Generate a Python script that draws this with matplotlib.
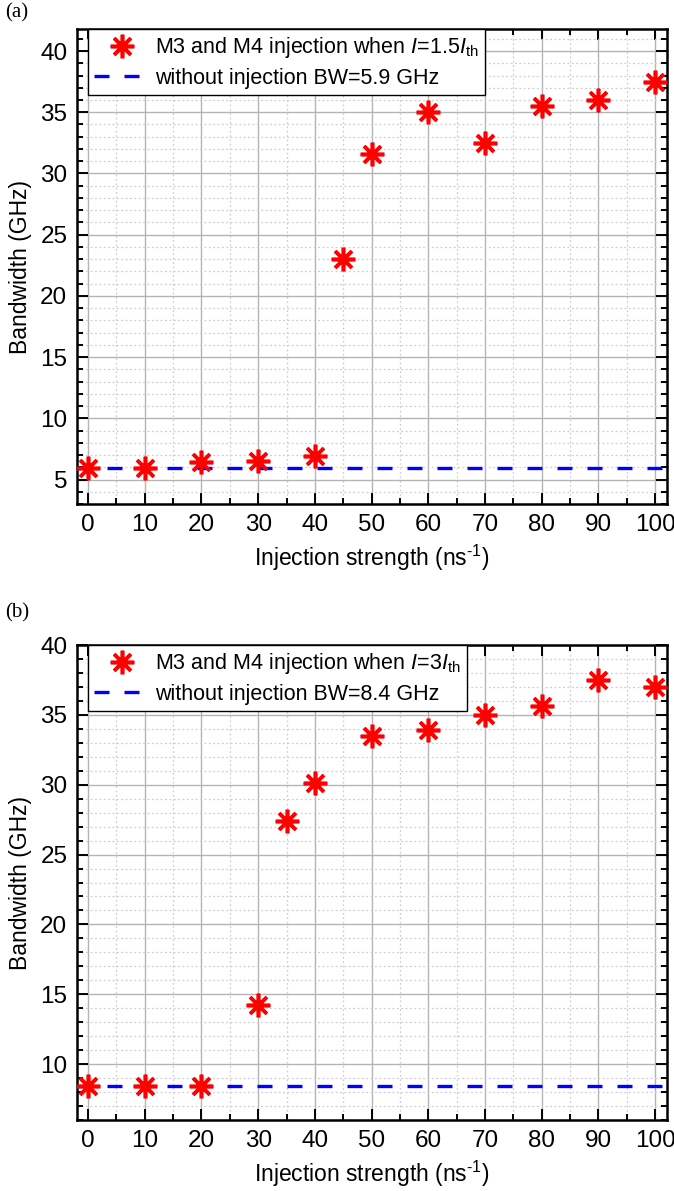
import matplotlib
matplotlib.use("Agg")
import matplotlib.pyplot as plt
from matplotlib.ticker import MultipleLocator

plt.rcParams['font.family'] = ['Liberation Sans', 'DejaVu Sans']
plt.rcParams['mathtext.fontset'] = 'custom'
plt.rcParams['mathtext.rm'] = 'Liberation Sans'
plt.rcParams['mathtext.it'] = 'Liberation Sans:italic'

# Panel (a) data
x_a = [0, 10, 20, 30, 40, 45, 50, 60, 70, 80, 90, 100]
bw_a = [5.9, 5.9, 6.4, 6.5, 6.9, 23.0, 31.6, 35.0, 32.5, 35.5, 36.0, 37.5]
ref_a = 5.9
label_a = r'M3 and M4 injection when $\mathit{I}$=1.5$\mathit{I}_{\mathrm{th}}$'
ref_label_a = 'without injection BW=5.9 GHz'

# Panel (b) data
x_b = [0, 10, 20, 30, 35, 40, 50, 60, 70, 80, 90, 100]
bw_b = [8.4, 8.4, 8.4, 14.2, 27.4, 30.1, 33.5, 33.9, 35.0, 35.6, 37.5, 37.0]
ref_b = 8.4
label_b = r'M3 and M4 injection when $\mathit{I}$=3$\mathit{I}_{\mathrm{th}}$'
ref_label_b = 'without injection BW=8.4 GHz'

xticks = [0, 10, 20, 30, 40, 50, 60, 70, 80, 90, 100]

W, H = 674, 1191
fig = plt.figure(figsize=(W / 100, H / 100), dpi=100)

def make_ax(top_px, bottom_px):
    left, right = 77, 667
    return fig.add_axes([left / W, 1 - bottom_px / H, (right - left) / W, (bottom_px - top_px) / H])

def style(ax, x, y, ref, lab, reflab, ylim, yticks):
    ax.set_xlim(-1.95, 102.1)
    ax.set_ylim(*ylim)
    ax.set_xticks(xticks)
    ax.set_yticks(yticks)
    ax.xaxis.set_minor_locator(MultipleLocator(5))
    ax.yaxis.set_minor_locator(MultipleLocator(1))
    ax.grid(which='major', color='#b4b4b4', linewidth=1.0, linestyle='-')
    ax.grid(which='minor', color='#cfcfcf', linewidth=0.9, linestyle=(0, (1.5, 2)))
    ax.set_axisbelow(True)
    for s in ax.spines.values():
        s.set_linewidth(1.8)
    ax.tick_params(which='both', direction='in', top=True, right=True, width=1.4)
    ax.tick_params(which='major', length=8, labelsize=17.5, pad=7)
    ax.tick_params(which='minor', length=4.5)
    ax.plot(x, y, linestyle='none', marker=(8, 2, 0), markersize=17,
            markeredgewidth=2.6, color='#ff0000', label=lab, zorder=4)
    ax.axhline(ref, color='#0000ff', linewidth=2.4, linestyle=(0, (4.5, 4.5)),
               label=reflab, zorder=3)
    ax.set_xlabel(r'Injection strength (ns$^{\text{-1}}$)', fontsize=16.5, labelpad=5)
    ax.set_ylabel('Bandwidth (GHz)', fontsize=16.5, labelpad=6)
    leg = ax.legend(loc='upper left', bbox_to_anchor=(0.0186, 1.0), borderaxespad=0,
                    fontsize=15.5, frameon=True, fancybox=False, edgecolor='black',
                    framealpha=1, handlelength=2.6, handletextpad=0.2,
                    borderpad=0.3, labelspacing=0.35)
    leg.get_frame().set_linewidth(1.0)
    leg.set_zorder(5)

ax1 = make_ax(29, 504)
style(ax1, x_a, bw_a, ref_a, label_a, ref_label_a, (3, 41.8), [5, 10, 15, 20, 25, 30, 35, 40])
ax2 = make_ax(645, 1120)
style(ax2, x_b, bw_b, ref_b, label_b, ref_label_b, (6, 40), [10, 15, 20, 25, 30, 35, 40])

fig.text(5 / W, 1 - 3 / H, '(a)', family='Liberation Serif', fontsize=15, va='top', ha='left')
fig.text(5 / W, 1 - 603 / H, '(b)', family='Liberation Serif', fontsize=15, va='top', ha='left')

fig.savefig('out.png', dpi=100)
